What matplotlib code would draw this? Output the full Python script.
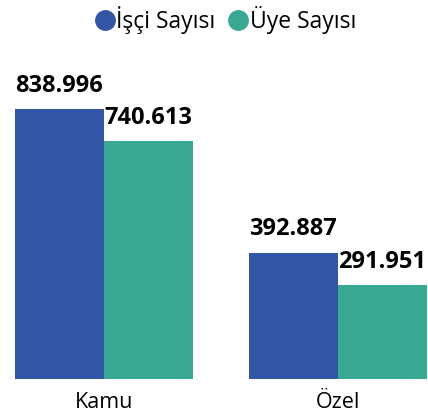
import matplotlib.pyplot as plt
from matplotlib.lines import Line2D
import numpy as np

plt.rcParams['font.family'] = ['Open Sans', 'DejaVu Sans']

kategoriler = ["Kamu", "Özel"]
isci_sayisi = [838996, 392887]
uye_sayisi = [740613, 291951]
seriler = ["İşçi Sayısı", "Üye Sayısı"]
renkler = ["#3355A6", "#38A893"]

def etiket(v):
    return f"{v:,}".replace(",", ".")

fig = plt.figure(figsize=(4.28, 4.18), dpi=100)
# axes: x pixel 15..427, y pixel 60..379
ax = fig.add_axes([15 / 428, 1 - 379 / 418, 412 / 428, 319 / 418])

x = np.arange(len(kategoriler))
w = 0.38
b1 = ax.bar(x - w / 2, isci_sayisi, w, color=renkler[0])
b2 = ax.bar(x + w / 2, uye_sayisi, w, color=renkler[1])

for bars, vals in [(b1, isci_sayisi), (b2, uye_sayisi)]:
    for r, v in zip(bars, vals):
        ax.annotate(etiket(v), xy=(r.get_x(), v), xytext=(0, 8),
                    textcoords="offset points", ha="left", va="bottom",
                    fontsize=17, fontweight="bold", color="black")

ax.set_xlim(-w, 1 + w)
ax.set_ylim(0, 838996 * 319 / 270)
ax.set_xticks(x)
ax.set_xticklabels(kategoriler, fontsize=15.5)
ax.tick_params(axis="x", length=0, pad=9)
ax.set_yticks([])
for s in ax.spines.values():
    s.set_visible(False)

handles = [Line2D([], [], marker="o", linestyle="", markersize=14, color=c) for c in renkler]
fig.legend(handles, seriler, loc="upper center", bbox_to_anchor=(0.525, 1.035), ncol=2,
           frameon=False, fontsize=16.5, handletextpad=0.0, columnspacing=0.5,
           handlelength=1.0)

fig.savefig("out.png", dpi=100)
